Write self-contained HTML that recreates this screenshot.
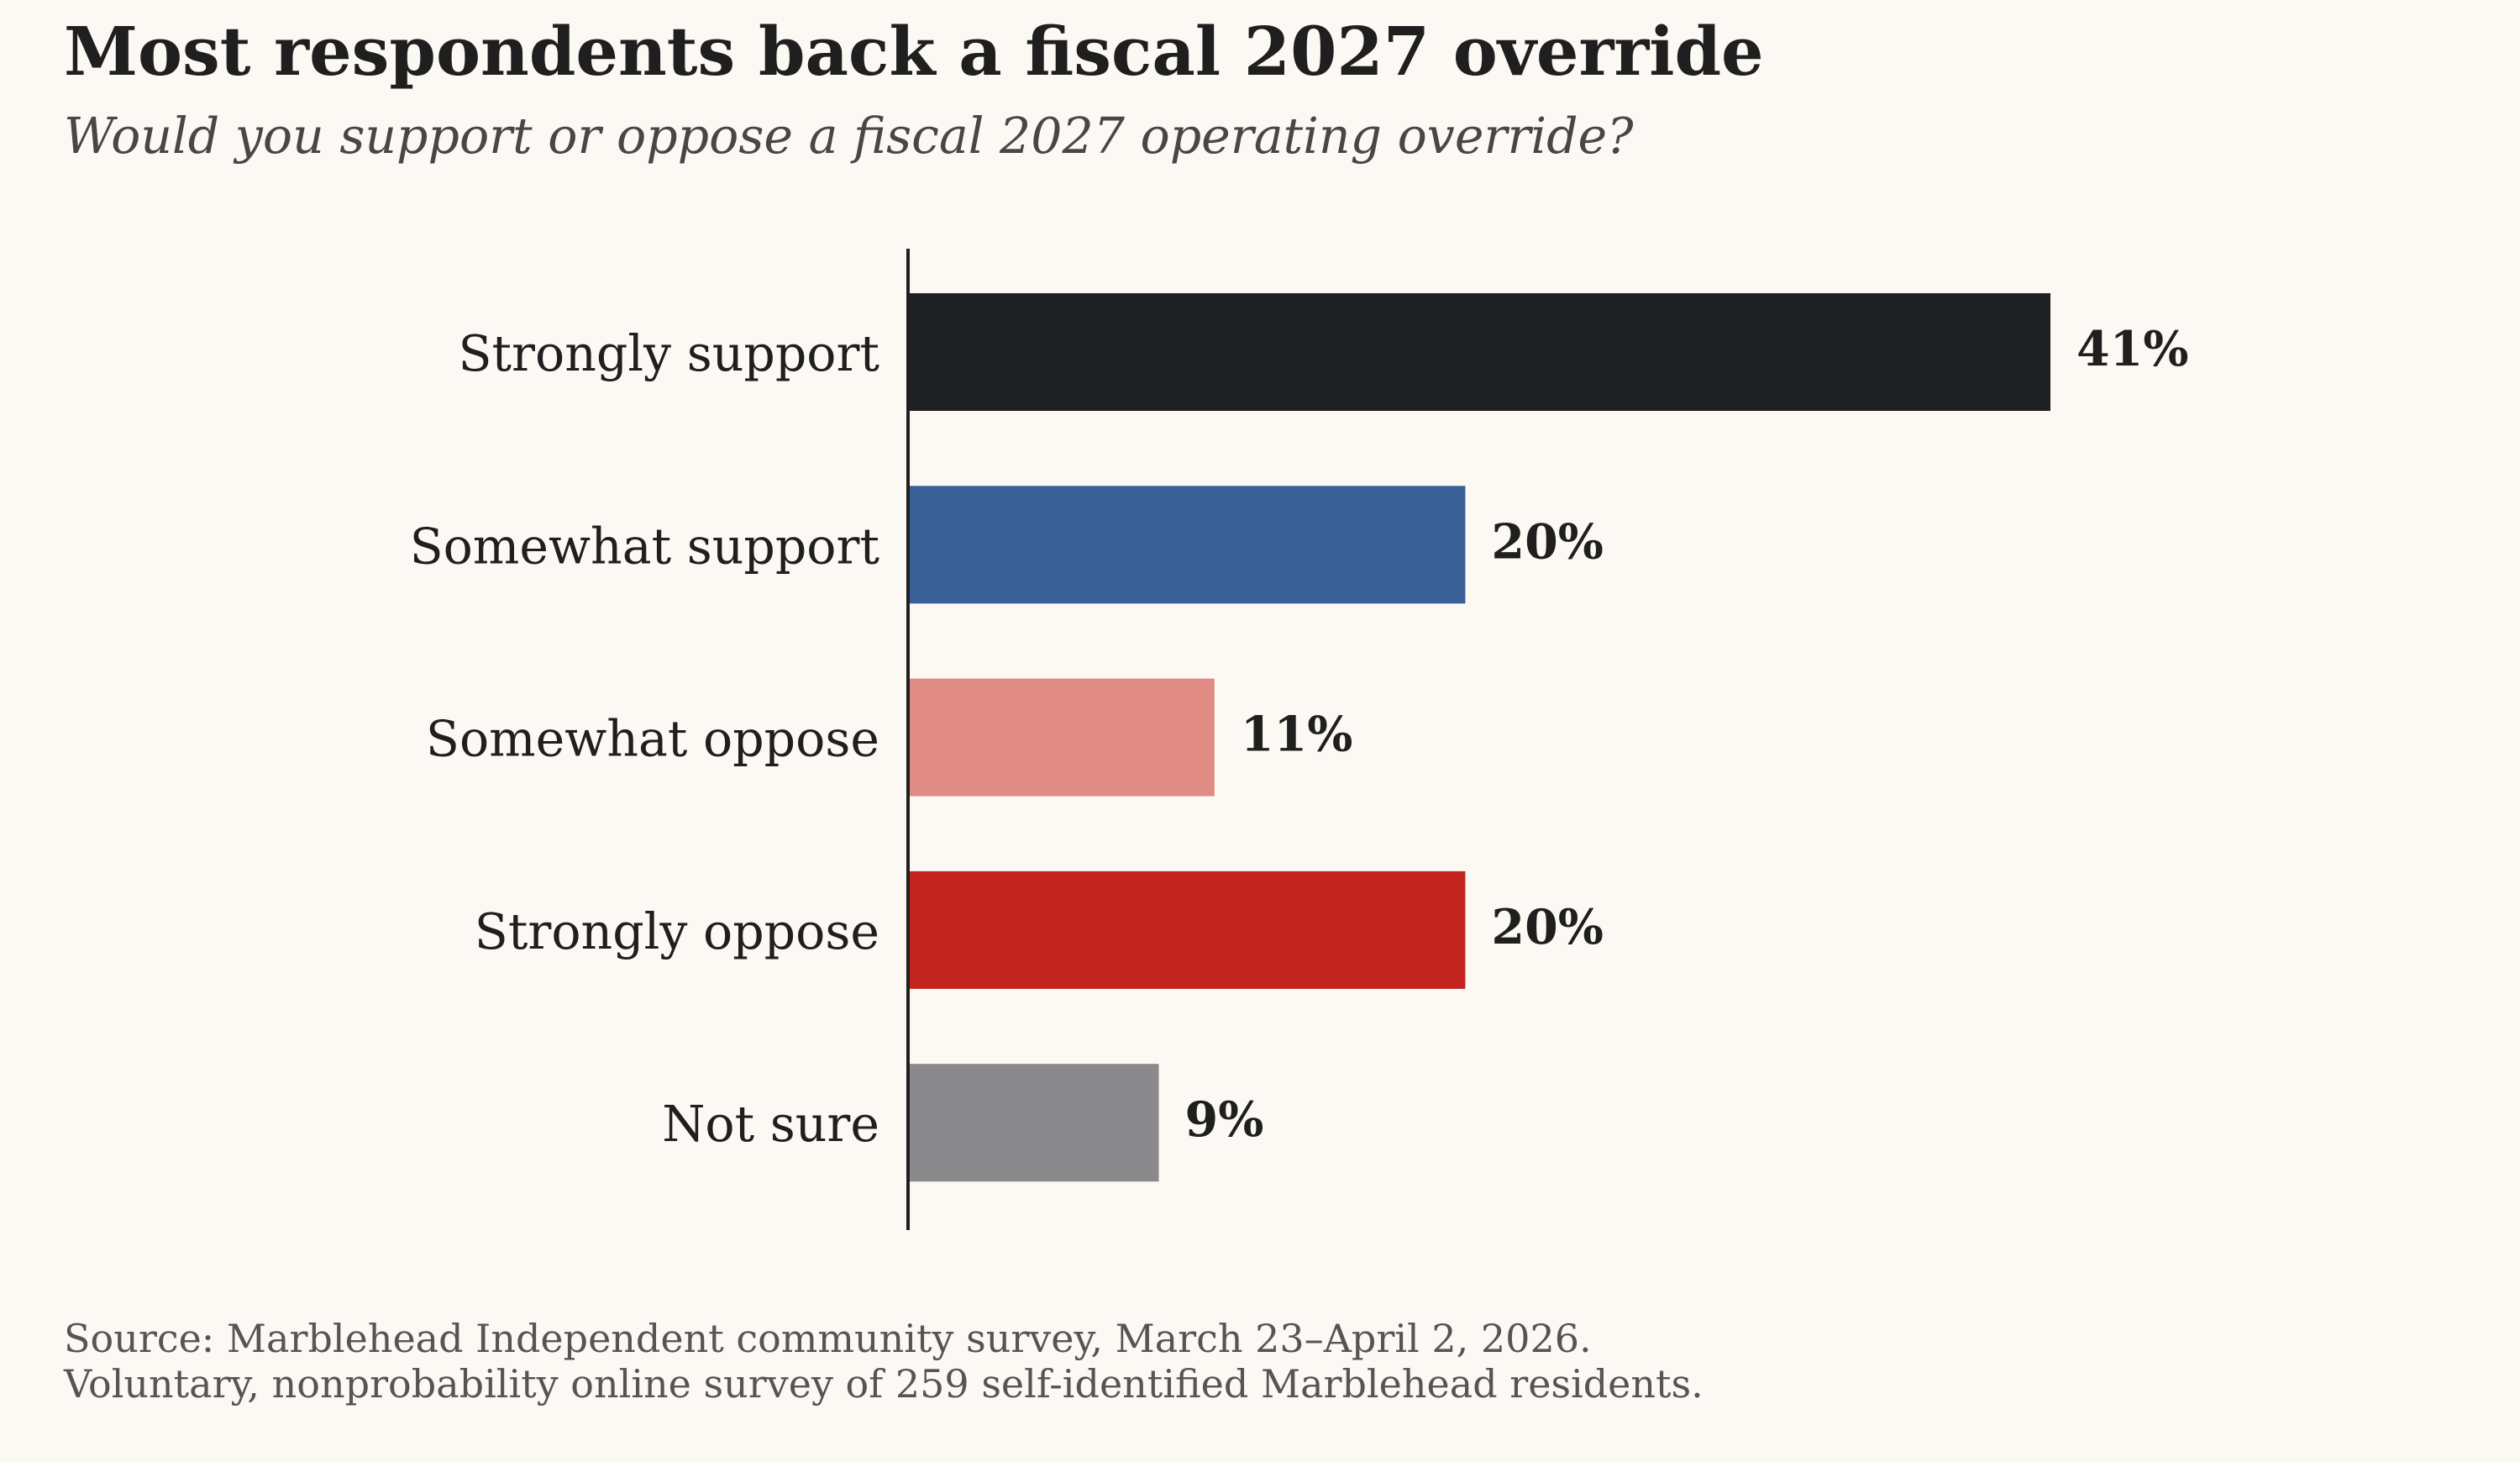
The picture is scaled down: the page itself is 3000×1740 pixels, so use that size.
<!DOCTYPE html>
<html><head><meta charset="utf-8">
<style>
html,body{margin:0;padding:0;background:#fcf9f5;}
svg{display:block;font-family:"DejaVu Serif","Liberation Serif",serif;}
</style></head>
<body>
<svg id="chart" width="3000" height="1740" viewBox="0 0 3000 1740" xmlns="http://www.w3.org/2000/svg">
<rect width="3000" height="1740" fill="#fcf9f5"/>
<text x="76" y="89" font-size="79.5" font-weight="bold" fill="#1f1f1f">Most respondents back a fiscal 2027 override</text>
<text x="76" y="182" font-size="58.5" font-style="italic" fill="#474747">Would you support or oppose a fiscal 2027 operating override?</text>
<g id="bars"></g>
<line x1="1081" y1="296" x2="1081" y2="1464" stroke="#1f1f1f" stroke-width="4"/>
<text x="76" y="1609" font-size="46" fill="#555">Source: Marblehead Independent community survey, March 23–April 2, 2026.</text>
<text x="76" y="1663" font-size="46" fill="#555">Voluntary, nonprobability online survey of 259 self-identified Marblehead residents.</text>
</svg>
<script>
const categories = ["Strongly support","Somewhat support","Somewhat oppose","Strongly oppose","Not sure"];
const values = [41,20,11,20,9];
const colors = ["#1f2022","#386097","#e08b84","#c3241f","#8a8a8c"];
const NS="http://www.w3.org/2000/svg";
const x0=1081, pxPer=(2441-1081)/41;
const xScale=v=>x0+v*pxPer;
const yCenter=i=>419+i*229.3;
const barH=140;
const g=document.getElementById('bars');
categories.forEach((c,i)=>{
  const yc=yCenter(i);
  const r=document.createElementNS(NS,'rect');
  r.setAttribute('x',x0);r.setAttribute('y',yc-barH/2);
  r.setAttribute('width',xScale(values[i])-x0);r.setAttribute('height',barH);
  r.setAttribute('fill',colors[i]);
  
  
  g.appendChild(r);
  const l=document.createElementNS(NS,'text');
  l.setAttribute('x',1047);l.setAttribute('y',yc+22);
  l.setAttribute('text-anchor','end');l.setAttribute('font-size','58.5');l.setAttribute('fill','#1f1f1f');
  l.textContent=c;
  
  
  g.appendChild(l);
  const v=document.createElementNS(NS,'text');
  v.setAttribute('x',xScale(values[i])+31);v.setAttribute('y',yc+16);
  v.setAttribute('font-size','57');v.setAttribute('font-weight','bold');v.setAttribute('fill','#1f1f1f');
  v.textContent=values[i]+'%';
  
  
  g.appendChild(v);
});
</script>
</body></html>
